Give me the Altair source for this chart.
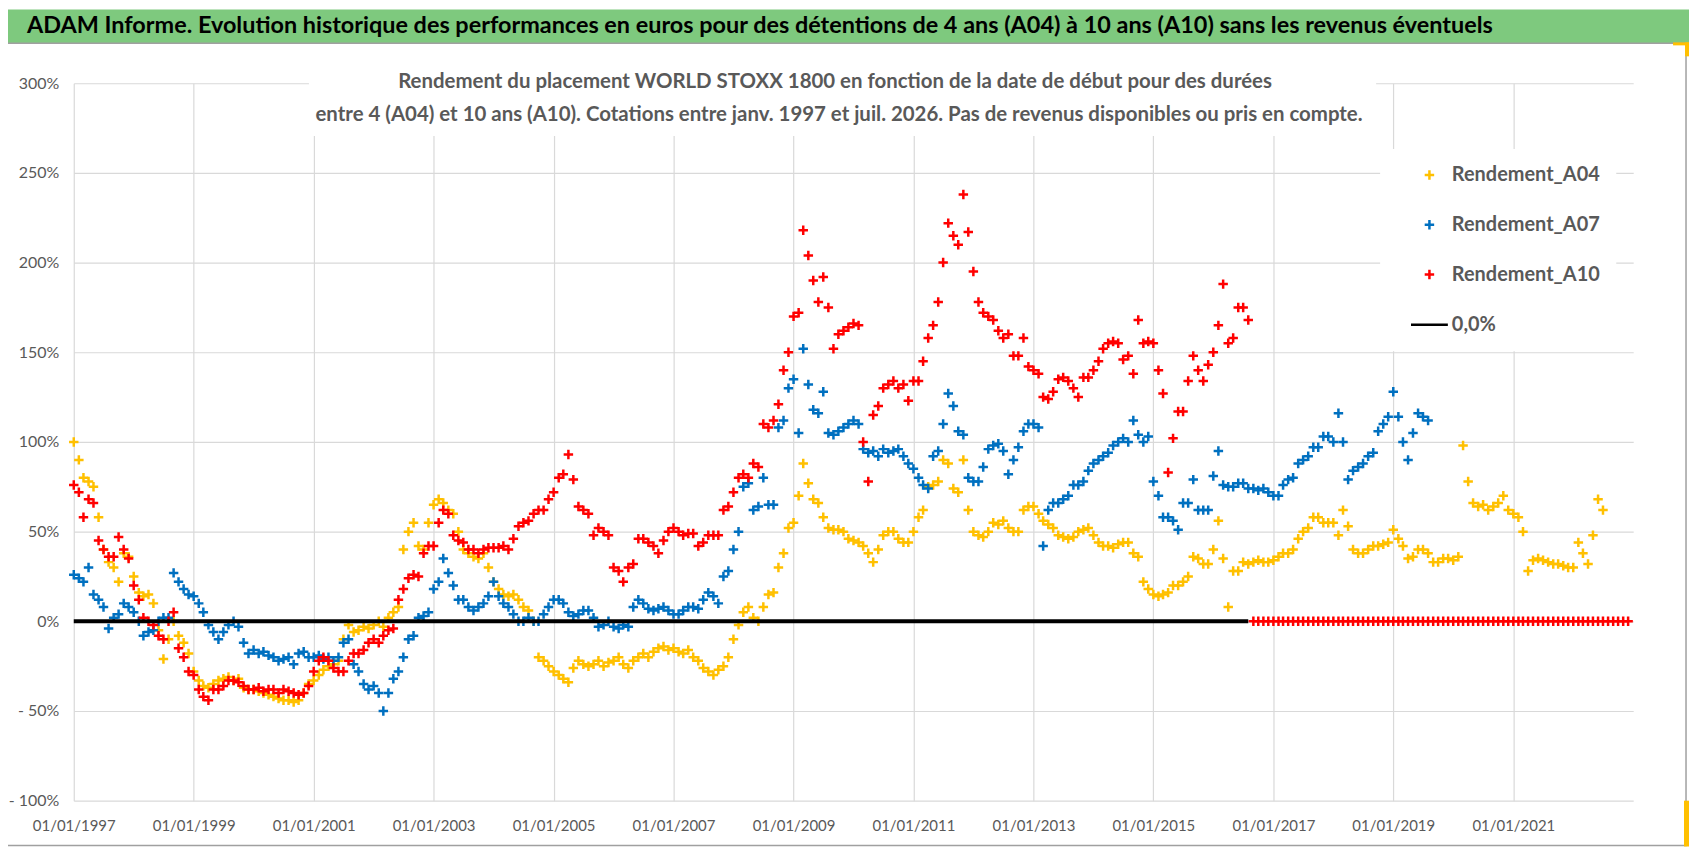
import pandas as pd
import altair as alt

# Rendements, en %, une valeur par mois à partir de janv. 1997
a04 = [100, 90, 80, 78, 75, 58, 40, 33, 30, 22, 38, 36,
       25, 16, 14, 15, 10, -5, -21, -10, 0, -8, -12, -18,
       -28, -33, -36, -37, -35, -33, -32, -31, -33, -32, -37, -38,
       -38, -39, -40, -41, -42, -43, -44, -44, -45, -44, -40, -35,
       -33, -30, -27, -25, -24, -22, -10, -2, -6, -5, -3, -4,
       -2, 0, -3, 2, 5, 8, 40, 50, 55, 42, 40, 55,
       65, 68, 66, 62, 60, 50, 40, 38, 36, 35, 38, 30,
       22, 18, 15, 14, 15, 12, 8, 6, 0, -20, -22, -25,
       -28, -30, -32, -34, -26, -22, -24, -25, -24, -22, -25, -23,
       -22, -20, -24, -26, -22, -20, -18, -20, -17, -15, -14, -16,
       -15, -17, -18, -16, -20, -22, -26, -28, -30, -27, -25, -20,
       -10, -2, 5, 8, 2, 0, 8, 15, 16, 30, 38, 52,
       55, 70, 88, 77, 68, 66, 58, 52, 51, 51, 50, 46,
       45, 44, 42, 38, 33, 40, 48, 50, 50, 46, 44, 44,
       50, 58, 62, 75, 76, 78, 90, 88, 74, 72, 90, 62,
       50, 48, 47, 50, 55, 54, 56, 52, 50, 50, 62, 64,
       64, 60, 56, 54, 52, 48, 47, 46, 47, 50, 51, 52,
       48, 44, 42, 42, 41, 43, 44, 44, 38, 36, 22, 18,
       15, 14, 15, 16, 20, 20, 22, 25, 36, 35, 32, 32,
       40, 56, 35, 8, 28, 28, 33, 32, 33, 34, 33, 33,
       34, 36, 38, 38, 40, 46, 50, 52, 58, 58, 55, 55,
       55, 48, 62, 53, 40, 38, 38, 40, 42, 42, 43, 44,
       51, 46, 42, 35, 36, 40, 40, 38, 33, 33, 35, 35,
       34, 36, 98, 78, 66, 64, 65, 62, 64, 66, 70, 62,
       60, 58, 50, 28, 34, 35, 34, 33, 32, 32, 31, 30,
       30, 44, 38, 32, 48, 68, 62]

a07 = [26, 24, 22, 30, 15, 12, 8, -4, 2, 4, 10, 8,
       5, 0, -8, -6, -5, 0, 2, 2, 27, 22, 18, 15,
       14, 10, 5, -2, -6, -10, -6, -2, 0, -3, -12, -18,
       -16, -18, -17, -19, -20, -22, -21, -20, -24, -18, -17, -20,
       -20, -19, -21, -20, -22, -20, -12, -10, -24, -28, -35, -38,
       -36, -40, -50, -40, -32, -28, -20, -10, -8, 2, 3, 5,
       18, 22, 35, 27, 20, 12, 12, 8, 6, 8, 10, 14,
       22, 14, 10, 8, 4, 0, 0, 2, 0, 0, 4, 8,
       12, 12, 10, 5, 3, 4, 6, 6, 2, -3, -2, 0,
       -3, -4, -2, -3, 8, 12, 10, 7, 6, 7, 8, 6,
       4, 4, 6, 8, 8, 7, 12, 16, 14, 10, 25, 28,
       40, 50, 75, 77, 62, 64, 80, 65, 65, 108, 112, 130,
       135, 105, 152, 132, 118, 116, 128, 105, 104, 106, 108, 110,
       112, 110, 96, 94, 95, 92, 96, 94, 95, 96, 92, 88,
       85, 80, 76, 74, 92, 95, 110, 127, 120, 106, 104, 80,
       78, 78, 86, 96, 98, 99, 95, 82, 90, 97, 106, 110,
       110, 108, 42, 62, 66, 66, 68, 70, 76, 76, 78, 84,
       88, 90, 92, 94, 98, 100, 102, 100, 112, 104, 100, 103,
       78, 70, 58, 58, 56, 51, 66, 66, 79, 62, 62, 62,
       81, 95, 76, 75, 75, 77, 77, 74, 74, 73, 74, 72,
       70, 70, 76, 79, 80, 88, 90, 92, 97, 97, 103, 103,
       100, 116, 100, 79, 84, 86, 88, 92, 94, 106, 110, 114,
       128, 114, 100, 90, 105, 116, 114, 112]

a10 = [76, 72, 58, 68, 66, 45, 40, 36, 36, 47, 40, 35,
       20, 12, 2, 0, -2, -8, -10, 0, 5, -15, -20, -28,
       -30, -38, -42, -44, -38, -38, -36, -33, -33, -34, -36, -38,
       -38, -37, -39, -38, -38, -40, -38, -39, -40, -41, -40, -36,
       -28, -22, -20, -22, -26, -28, -28, -22, -18, -18, -16, -12,
       -10, -12, -8, -5, -4, 12, 18, 24, 26, 25, 38, 42,
       42, 55, 62, 60, 48, 45, 44, 40, 40, 38, 40, 41,
       41, 41, 42, 40, 46, 53, 55, 56, 60, 62, 62, 68,
       72, 80, 82, 93, 79, 64, 62, 60, 48, 52, 50, 48,
       30, 28, 22, 30, 32, 46, 46, 44, 42, 38, 45, 50,
       52, 50, 48, 49, 49, 42, 44, 48, 48, 48, 62, 64,
       72, 80, 82, 80, 88, 86, 110, 108, 112, 121, 140, 150,
       170, 172, 218, 204, 190, 178, 192, 175, 152, 160, 162, 164,
       166, 165, 100, 78, 115, 120, 130, 132, 134, 130, 132, 123,
       134, 134, 145, 158, 165, 178, 200, 222, 215, 210, 238, 217,
       195, 178, 172, 170, 168, 162, 158, 160, 148, 148, 158, 142,
       140, 138, 125, 124, 128, 135, 136, 134, 130, 125, 136, 136,
       140, 145, 152, 155, 156, 155, 146, 148, 138, 168, 155, 156,
       155, 140, 127, 83, 102, 117, 117, 134, 148, 140, 134, 143,
       150, 165, 188, 155, 158, 175, 175, 168]
a10_zero = [0] * 76   # de sept. 2016 à déc. 2022 la série A10 est à 0

series = ['Rendement_A04', 'Rendement_A07', 'Rendement_A10', '0,0%']
colors = ['#FFC000', '#0070C0', '#FF0000', '#000000']
tick_years = [1997, 1999, 2001, 2003, 2005, 2007, 2009, 2011, 2013, 2015, 2017, 2019, 2021]
y_ticks = [-100, -50, 0, 50, 100, 150, 200, 250, 300]

TITLE = ('ADAM Informe. Evolution historique des performances en euros pour des détentions '
         'de 4 ans (A04) à 10 ans (A10) sans les revenus éventuels')
SUB1 = 'Rendement du placement WORLD STOXX 1800  en fonction de la date de début pour des durées'
SUB2 = ('entre 4 (A04) et 10 ans (A10).  Cotations entre janv. 1997 et juil. 2026. '
        'Pas de revenus disponibles ou pris en compte.')


def monthly(values, name):
    return pd.DataFrame({
        'date': pd.date_range('1997-01-01', periods=len(values), freq='MS'),
        'rendement': values,
        'serie': name,
    })


points = pd.concat([monthly(a04, series[0]),
                    monthly(a07, series[1]),
                    monthly(a10 + a10_zero, series[2])], ignore_index=True)
zero_line = pd.DataFrame({'date': ['1997-01-01'], 'date_fin': ['2016-08-01'], 'rendement': [0]})
deco = pd.DataFrame({'k': [0]})

plus = 'M-1,0L1,0M0,-1L0,1'
line_sym = 'M-2,0L2,0'   # trait noir de la légende, deux fois plus large que haut
legend = alt.Legend(title=None, orient='none', legendX=1311, legendY=66, fillColor='white',
                    padding=16, symbolOffset=23, labelOffset=12, labelFont='Lato',
                    labelFontSize=20, labelFontWeight='bold', labelColor='#595959',
                    rowPadding=30, symbolStrokeWidth=2.5)

#----------------------------------------------------------------- décor (bandeau, cadre, sous-titre)
banner = alt.Chart(deco).mark_rect(color='#7ec97e').encode(
    x=alt.value(-74), x2=alt.value(1621), y=alt.value(-74), y2=alt.value(-40))
banner_text = alt.Chart(deco).mark_text(align='left', baseline='alphabetic', font='Lato',
                                        fontSize=23.5, fontWeight='bold', color='black').encode(
    x=alt.value(-47), y=alt.value(-50), text=alt.value(TITLE))
frame = alt.Chart(deco).mark_rect(fillOpacity=0, stroke='#a0a0a0', strokeWidth=1.5).encode(
    x=alt.value(-73), x2=alt.value(1618), y=alt.value(-40), y2=alt.value(765))
handle_top_h = alt.Chart(deco).mark_rect(color='#FFC000').encode(
    x=alt.value(1605), x2=alt.value(1621), y=alt.value(-41), y2=alt.value(-38))
handle_top_v = alt.Chart(deco).mark_rect(color='#FFC000').encode(
    x=alt.value(1617), x2=alt.value(1621), y=alt.value(-41), y2=alt.value(-27))
handle_bot_v = alt.Chart(deco).mark_rect(color='#FFC000').encode(
    x=alt.value(1616), x2=alt.value(1621), y=alt.value(720), y2=alt.value(766))
sub_box = alt.Chart(deco).mark_rect(color='white').encode(
    x=alt.value(236), x2=alt.value(1307), y=alt.value(-27), y2=alt.value(53))
sub1 = alt.Chart(deco).mark_text(font='Lato', fontSize=20.5, fontWeight='bold', color='#595959').encode(
    x=alt.value(764), y=alt.value(-1), text=alt.value(SUB1))
sub2 = alt.Chart(deco).mark_text(font='Lato', fontSize=20.5, fontWeight='bold', color='#595959').encode(
    x=alt.value(768), y=alt.value(32), text=alt.value(SUB2))

#----------------------------------------------------------------- séries
pts = alt.Chart(points).mark_point(filled=False, strokeWidth=2.5, opacity=1).encode(
    x=alt.X('date:T',
            scale=alt.Scale(domain=[alt.DateTime(year=1997, month=1, date=1),
                                    alt.DateTime(year=2023, month=1, date=1)]),
            axis=alt.Axis(values=[alt.DateTime(year=y, month=1, date=1) for y in tick_years],
                          format='%d/%m/%Y', title=None, labelFont='Lato', labelFontSize=15,
                          labelColor='#595959', labelPadding=18, labelFlush=False,
                          labelOverlap=False, ticks=False, domain=False,
                          gridColor='#d9d9d9', gridWidth=1.2)),
    y=alt.Y('rendement:Q',
            scale=alt.Scale(domain=[-100, 300]),
            axis=alt.Axis(values=y_ticks, title=None, labelFont='Lato', labelFontSize=16,
                          labelColor='#595959', labelPadding=15, ticks=False, domain=False,
                          gridColor='#d9d9d9', gridWidth=1.2,
                          labelExpr="datum.value < 0 ? '- ' + format(-datum.value, 'd') + '%' : format(datum.value, 'd') + '%'")),
    color=alt.Color('serie:N', scale=alt.Scale(domain=series, range=colors), legend=legend),
    shape=alt.Shape('serie:N', scale=alt.Scale(domain=series, range=[plus, plus, plus, line_sym]),
                    legend=legend),
    size=alt.Size('serie:N', scale=alt.Scale(type='ordinal', domain=series, range=[90, 90, 90, 342]),
                  legend=legend),
)

rule = alt.Chart(zero_line).mark_rule(color='black', strokeWidth=4).encode(
    x='date:T', x2='date_fin:T', y='rendement:Q')

chart = alt.layer(banner, banner_text, frame, handle_top_h, handle_top_v, handle_bot_v,
                  sub_box, sub1, sub2, pts, rule).properties(
    width=1565, height=720,
    autosize=alt.AutoSizeParams(type='none'),
    padding={'left': 66, 'top': 74, 'right': 57, 'bottom': 46},
    background='white',
).configure_view(strokeWidth=0)

chart.save('out.html', embed_options={'renderer': 'svg', 'actions': False})
